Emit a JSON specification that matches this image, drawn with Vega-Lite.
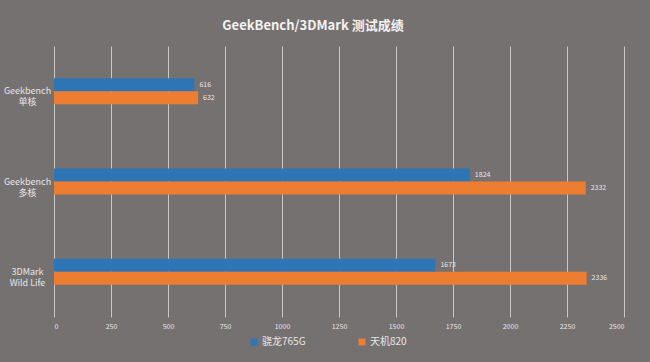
{
  "$schema": "https://vega.github.io/schema/vega-lite/v6.json",
  "autosize": {"type": "none"},
  "width": 570,
  "height": 271,
  "padding": {"left": 54, "top": 46, "right": 26, "bottom": 45},
  "background": "#767171",
  "config": {"view": {"stroke": null}, "font": "Noto Sans CJK SC"},
  "title": {
    "text": "GeekBench/3DMark 测试成绩",
    "fontSize": 13,
    "fontWeight": "bold",
    "color": "#f2f2f2",
    "anchor": "middle",
    "dx": -26,
    "offset": 13
  },
  "data": {
    "values": [
      {"cat": "Geekbench\n单核", "series": "骁龙765G", "value": 616},
      {"cat": "Geekbench\n单核", "series": "天机820", "value": 632},
      {"cat": "Geekbench\n多核", "series": "骁龙765G", "value": 1824},
      {"cat": "Geekbench\n多核", "series": "天机820", "value": 2332},
      {"cat": "3DMark\nWild Life", "series": "骁龙765G", "value": 1673},
      {"cat": "3DMark\nWild Life", "series": "天机820", "value": 2336}
    ]
  },
  "encoding": {
    "y": {
      "field": "cat",
      "type": "nominal",
      "sort": ["Geekbench\n单核", "Geekbench\n多核", "3DMark\nWild Life"],
      "scale": {"paddingInner": 0.712, "paddingOuter": 0.356},
      "axis": {
        "title": null,
        "domain": false,
        "ticks": false,
        "labelAlign": "center",
        "labelBaseline": "middle",
        "labelPadding": 27,
        "labelFontSize": 9,
        "labelLineHeight": 11,
        "labelColor": "#e6e6e6",
        "labelExpr": "split(datum.label, '\\n')"
      }
    },
    "yOffset": {"field": "series", "sort": ["骁龙765G", "天机820"]},
    "x": {
      "field": "value",
      "type": "quantitative",
      "scale": {"domain": [0, 2500], "nice": false},
      "axis": {
        "title": null,
        "domain": false,
        "ticks": false,
        "format": "d",
        "values": [0, 250, 500, 750, 1000, 1250, 1500, 1750, 2000, 2250, 2500],
        "labelFontSize": 7,
        "labelColor": "#e6e6e6",
        "labelPadding": 5,
        "gridColor": "#c8c8c8",
        "gridWidth": 1,
        "gridOpacity": 1
      }
    }
  },
  "layer": [
    {
      "mark": {"type": "bar"},
      "encoding": {
        "color": {
          "field": "series",
          "type": "nominal",
          "sort": ["骁龙765G", "天机820"],
          "scale": {"domain": ["骁龙765G", "天机820"], "range": ["#2e75b6", "#ed7d31"]},
          "legend": {
            "title": null,
            "orient": "none",
            "direction": "horizontal",
            "legendX": 195,
            "legendY": 291,
            "symbolType": "square",
            "symbolSize": 49,
            "symbolStrokeWidth": 0,
            "labelFontSize": 10,
            "labelColor": "#e6e6e6",
            "labelOffset": 3,
            "columnPadding": 51
          }
        }
      }
    },
    {
      "mark": {"type": "text", "align": "left", "baseline": "middle", "dx": 5, "fontSize": 7, "color": "#e6e6e6"},
      "encoding": {"text": {"field": "value", "type": "quantitative"}}
    }
  ]
}
